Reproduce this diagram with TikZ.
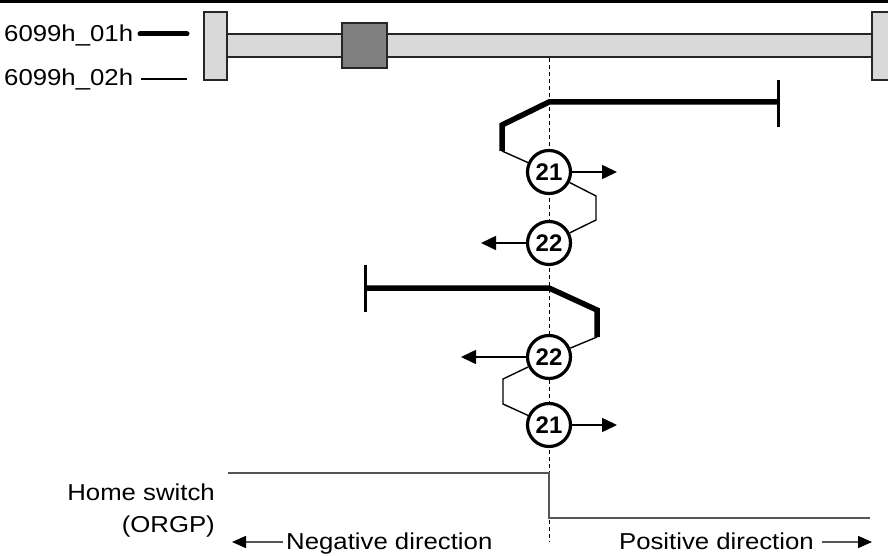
\documentclass[tikz,border=0pt]{standalone}
\usepackage{fontspec}
\setmainfont[FakeStretch=1.12]{Liberation Sans}
\newfontfamily\numfont{Liberation Sans}
\usetikzlibrary{arrows.meta}
\definecolor{barfill}{HTML}{D9D9D9}
\definecolor{blockfill}{HTML}{808080}
\definecolor{edge}{HTML}{262626}
\definecolor{swline}{HTML}{555555}
\begin{document}
\begin{tikzpicture}[x=1pt,y=-1pt,
  txt/.style={font=\fontsize{23}{27}\selectfont, inner sep=0pt},
  numc/.style={circle, draw=black, line width=3.2pt, fill=white, minimum size=43pt, inner sep=0pt, font=\numfont\bfseries\fontsize{24}{26}\selectfont},
  thickp/.style={line width=5.5pt, line join=miter},
  thinp/.style={line width=1.4pt},
  dirarrow/.style={line width=1.6pt, -{Triangle[length=15pt,width=14pt]}},
  barbox/.style={draw=edge, line width=2pt, fill=barfill},
  tick/.style={line width=3pt}
]
\useasboundingbox (0,0) rectangle (888,556);
% top border line
\fill[black] (0,0) rectangle (888,2.7);
% bar
\node[barbox, minimum width=646pt, minimum height=23pt, inner sep=0pt, anchor=west] (bar) at (226,45.5) {};
\node[barbox, minimum width=23pt, minimum height=68pt, inner sep=0pt] (lend) at (215.5,46) {};
\node[barbox, minimum width=23pt, minimum height=68pt, inner sep=0pt, anchor=west] (rend) at (871,46) {};
\node[draw=edge, line width=2pt, fill=blockfill, minimum width=45pt, minimum height=45pt, inner sep=0pt] (blk) at (364,46) {};
% legend
\node[txt, anchor=base west] (l1) at (4,42) {6099h\_01h};
\node[txt, anchor=base west] (l2) at (4,86) {6099h\_02h};
\coordinate (l1a) at (140,34);
\coordinate (l1b) at (187,34);
\coordinate (l2a) at (141,79);
\coordinate (l2b) at (187,79);
\draw[line width=5pt, line cap=round] (l1a) -- (l1b);
\draw[thinp] (l2a) -- (l2b);
% dashed center line
\coordinate (dtop) at (549,58);
\coordinate (dbot) at (549,542);
\draw[line width=0.9pt, dash pattern=on 4pt off 3pt] (dtop) -- (dbot);
% home switch signal
\coordinate (hs1) at (228,473);
\coordinate (hs2) at (549,473);
\coordinate (hs3) at (549,518);
\coordinate (hs4) at (870,518);
\draw[swline, line width=1.6pt] (hs1) -- (hs2) -- (hs3) -- (hs4);
% circles
\node[numc] (c21a) at (549,172) {21};
\node[numc] (c22a) at (549,243) {22};
\node[numc] (c22b) at (549,357) {22};
\node[numc] (c21b) at (549,425) {21};
% upper path
\coordinate (ua) at (778,102);
\coordinate (ub) at (549,102);
\coordinate (uc) at (502,125);
\coordinate (ud) at (502,151);
\coordinate (ut1) at (778,80);
\coordinate (ut2) at (778,127);
\draw[tick] (ut1) -- (ut2);
\draw[thickp] (ua) -- (ub) -- (uc) -- (ud);
\draw[thinp] (ud) -- (c21a);
\coordinate (ue) at (596,196);
\coordinate (uf) at (596,220);
\draw[thinp] (c21a) -- (ue) -- (uf) -- (c22a);
\coordinate (ar1) at (617,172);
\coordinate (ar2) at (481,243);
\draw[dirarrow] (c21a.east) -- (ar1);
\draw[dirarrow] (c22a.west) -- (ar2);
% lower path
\coordinate (la) at (365,288);
\coordinate (lb) at (549,288);
\coordinate (lc) at (597,310);
\coordinate (ld) at (597,337);
\coordinate (lt1) at (365,265);
\coordinate (lt2) at (365,312);
\draw[tick] (lt1) -- (lt2);
\draw[thickp] (la) -- (lb) -- (lc) -- (ld);
\draw[thinp] (ld) -- (c22b);
\coordinate (le) at (503,379);
\coordinate (lf) at (503,404);
\draw[thinp] (c22b) -- (le) -- (lf) -- (c21b);
\coordinate (ar3) at (461,357);
\coordinate (ar4) at (617,425);
\draw[dirarrow] (c22b.west) -- (ar3);
\draw[dirarrow] (c21b.east) -- (ar4);
% bottom labels
\node[txt, anchor=base east] (hsw) at (215,500) {Home switch};
\node[txt, anchor=base east] (orgp) at (215,532) {(ORGP)};
\node[txt, anchor=base west] (neg) at (286,549) {Negative direction};
\node[txt, anchor=base east] (pos) at (814,549) {Positive direction};
\coordinate (na) at (232,542);
\coordinate (pa) at (872,542);
\draw[swline, line width=1.6pt, -{Triangle[length=14pt,width=12pt,color=black]}] (neg.west |- na) ++(-3,0) -- (na);
\draw[swline, line width=1.6pt, -{Triangle[length=14pt,width=12pt,color=black]}] (pos.east |- pa) ++(8,0) -- (pa);
\end{tikzpicture}
\end{document}
